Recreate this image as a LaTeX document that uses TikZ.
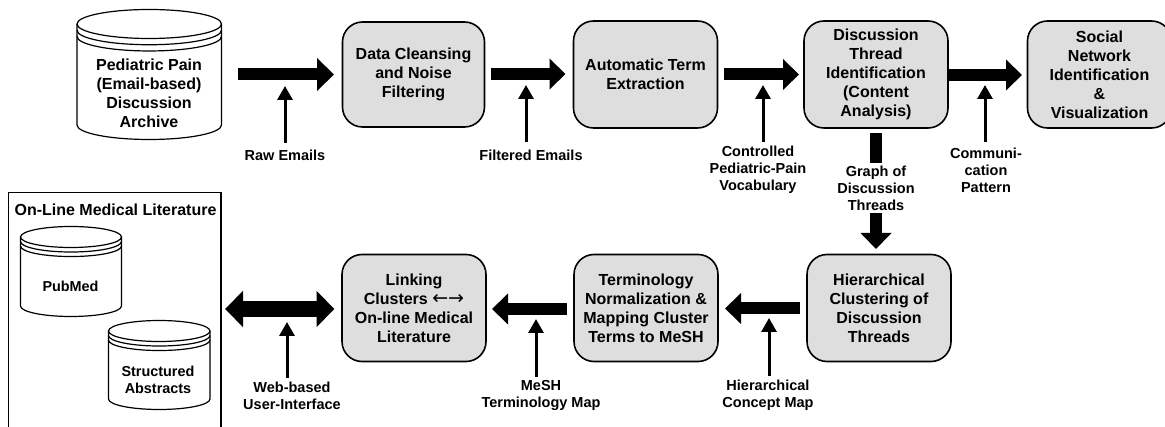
\documentclass[tikz,border=0pt]{standalone}
\usepackage{fontspec}
\setmainfont{Liberation Sans}
\newfontfamily\arrowfont{DejaVu Sans}
\usetikzlibrary{arrows.meta}
\tikzset{
  x=1pt,y=-1pt,
  procbox/.style={draw,line width=1.6pt,fill=black!13,rounded corners=20pt,minimum width=144pt,minimum height=107pt,inner sep=0pt,align=center,font=\fontsize{16}{19}\bfseries\selectfont},
  cyltext/.style={align=center,inner sep=0pt,font=\fontsize{16}{19}\bfseries\selectfont},
  smalltext/.style={align=center,inner sep=0pt,font=\fontsize{14.4}{17.3}\bfseries\selectfont},
  lbl/.style={align=center,inner sep=0pt,font=\fontsize{14.5}{17}\bfseries\selectfont},
  bigarrow/.style={line width=12pt,-{Triangle[length=16pt,width=30pt]}},
  largearrow/.style={line width=12pt,-{Triangle[length=17pt,width=32pt]}},
  bothbig/.style={line width=16pt,{Triangle[length=18pt,width=35pt]}-{Triangle[length=18pt,width=35pt]}},
  thinarrow/.style={line width=3pt,-{Triangle[length=14pt,width=15pt]}},
  cylline/.style={draw,line width=1.2pt,fill=white}
}
\newcommand{\cylinder}[5]{% x1,x2,ytop(ellipse centre),ybottom(side end),ry
  \pgfmathsetmacro{\cx}{(#1+#2)/2}\pgfmathsetmacro{\rx}{(#2-#1)/2}
  \path[cylline] (#1,#3) -- (#1,#4) arc[start angle=180,end angle=360,x radius=\rx,y radius=-#5] -- (#2,#3) arc[start angle=0,end angle=180,x radius=\rx,y radius=-#5] -- cycle;
  \draw[line width=1.2pt] (#1,#3) arc[start angle=180,end angle=360,x radius=\rx,y radius=-#5];
  \draw[line width=1.2pt] (#1,#3+0.43*#5) arc[start angle=180,end angle=360,x radius=\rx,y radius=-#5];
  \draw[line width=1.2pt] (#1,#3+0.86*#5) arc[start angle=180,end angle=360,x radius=\rx,y radius=-#5];
}
\begin{document}
\begin{tikzpicture}
\useasboundingbox (0,0) rectangle (1165,427);
% literature panel
\draw[line width=1.4pt] (8.5,427) -- (8.5,192.5) -- (221,192.5) -- (221,427);
\node[smalltext,font=\fontsize{16}{19}\bfseries\selectfont] (lit) at (115.5,209.5) {On-Line Medical Literature};
% cylinders
\cylinder{77}{221.5}{24}{125}{14.5}
\node[cyltext] (arch) at (149,93.5) {Pediatric Pain\\(Email-based)\\Discussion\\Archive};
\cylinder{20.5}{121.5}{237}{306}{10.5}
\node[smalltext] (pub) at (70.5,286.5) {PubMed};
\cylinder{108.5}{210}{331}{399}{10.5}
\node[smalltext] (sa) at (158,380) {Structured\\Abstracts};
% process boxes
\node[procbox,minimum width=142pt,minimum height=105pt] (clean) at (413.5,74.5) {Data Cleansing\\and Noise\\Filtering};
\node[procbox] (term) at (645.5,74.5) {Automatic Term\\Extraction};
\node[procbox] (disc) at (876,74.5) {Discussion\\Thread\\Identification\\(Content\\Analysis)};
\node[procbox] (soc) at (1099.5,74.5) {Social\\Network\\Identification\\\&\\Visualization};
\node[procbox] (hier) at (879,308) {Hierarchical\\Clustering of\\Discussion\\Threads};
\node[procbox] (norm) at (646,308) {Terminology\\Normalization \&\\Mapping Cluster\\Terms to MeSH};
\node[procbox] (link) at (414,308) {Linking\\Clusters {\arrowfont\mdseries\fontsize{19}{19}\selectfont ←→}\hspace{18pt}\\On-line Medical\\Literature};
% labels
\node[lbl] (lraw) at (285,155.5) {Raw Emails};
\node[lbl] (lfil) at (531,155.5) {Filtered Emails};
\node[lbl] (lcon) at (758,170) {Controlled\\Pediatric-Pain\\Vocabulary};
\node[lbl] (lgra) at (876,188) {Graph of\\Discussion\\Threads};
\node[lbl] (lcom) at (986,170) {Communi-\\cation\\Pattern};
\node[lbl] (lweb) at (292,395.5) {Web-based\\User-Interface};
\node[lbl] (lmes) at (541,395.5) {MeSH\\Terminology Map};
\node[lbl] (lcmp) at (768,395.5) {Hierarchical\\Concept Map};
% coordinates for free ends
\coordinate (a1s) at (238,74.5); \coordinate (a1e) at (334,74.5);
\coordinate (a2s) at (491,74); \coordinate (a2e) at (565.5,74);
\coordinate (a3s) at (724,74.5); \coordinate (a3e) at (799,74.5);
\coordinate (a4s) at (948,75); \coordinate (a4e) at (1022,75);
\coordinate (a5s) at (800,308.5); \coordinate (a5e) at (725,308.5);
\coordinate (a6s) at (567,309); \coordinate (a6e) at (492,309);
\coordinate (a7s) at (225,309); \coordinate (a7e) at (334.5,309);
\coordinate (g1) at (876,133.5); \coordinate (g2) at (876,163);
\coordinate (g3) at (876,213); \coordinate (g4) at (876,249);
% big arrows
\draw[largearrow] (a1s) -- (a1e);
\draw[bigarrow] (a2s) -- (a2e);
\draw[bigarrow] (a3s) -- (a3e);
\draw[bigarrow] (a4s) -- (a4e);
\draw[bigarrow] (a5s) -- (a5e);
\draw[bigarrow] (a6s) -- (a6e);
\draw[bothbig] (a7s) -- (a7e);
\draw[line width=12pt] (g1) -- (g2);
\draw[bigarrow] (g3) -- (g4);
% thin arrows
\coordinate (t1) at (285,86); \coordinate (t1b) at (285,143);
\coordinate (t2) at (526,85); \coordinate (t2b) at (526,142);
\coordinate (t3) at (763,85); \coordinate (t3b) at (763,142);
\coordinate (t4) at (985,85); \coordinate (t4b) at (985,142);
\coordinate (t5) at (287,322); \coordinate (t5b) at (287,378);
\coordinate (t6) at (536,319); \coordinate (t6b) at (536,377);
\coordinate (t7) at (769,318); \coordinate (t7b) at (769,376);
\draw[thinarrow] (t1b) -- (t1);
\draw[thinarrow] (t2b) -- (t2);
\draw[thinarrow] (t3b) -- (t3);
\draw[thinarrow] (t4b) -- (t4);
\draw[thinarrow] (t5b) -- (t5);
\draw[thinarrow] (t6b) -- (t6);
\draw[thinarrow] (t7b) -- (t7);
\end{tikzpicture}
\end{document}
